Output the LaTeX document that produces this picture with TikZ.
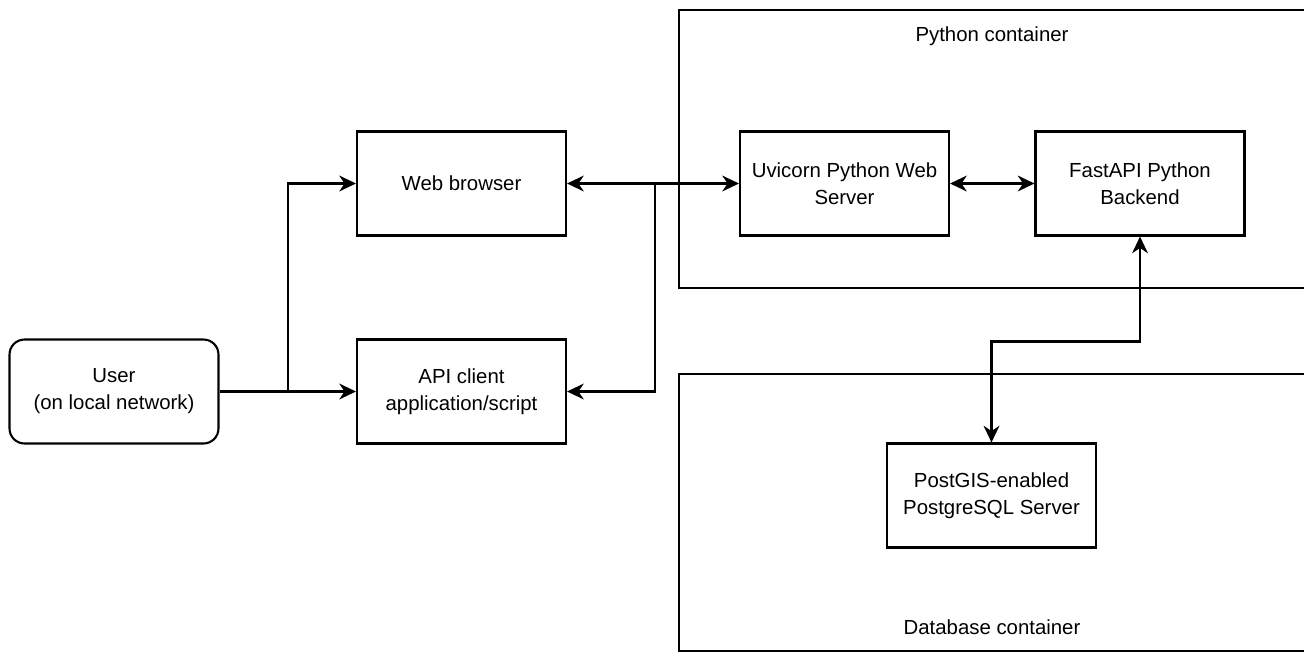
\documentclass[tikz,border=0pt]{standalone}
\usepackage{fontspec}
\setmainfont{Liberation Sans}
\usetikzlibrary{arrows.meta}

\begin{document}
\begin{tikzpicture}[x=0.02cm, y=-0.02cm, line width=1.2pt, >={Stealth[length=9.5pt,width=9pt,inset=3pt]}, font=\fontsize{11.6}{15.3}\selectfont]
    \tikzstyle{box}=[draw, rectangle, minimum width=4.18cm, minimum height=2.08cm, align=center, inner sep=2pt]
    \tikzstyle{actor}=[box, rounded corners=0.3cm]
    \tikzstyle{annot}=[text centered]

    \useasboundingbox (0,0) rectangle (1304,653);

    % Draw the containers (open on the right)
    \foreach \ya/\yb in {10/288,374/651}
        \draw (1320,\ya) -- (679,\ya) -- (679,\yb) -- (1320,\yb);

    % Draw the user and the clients
    \node[actor] (user) at (114,391.5) {User\\(on local network)};
    \node[box] (web) at (461.5,183.5) {Web browser};
    \node[box] (api) at (461.5,391.5) {API client\\application/script};

    % Draw the server nodes
    \node[box] (uvicorn) at (844.5,183.5) {Uvicorn Python Web\\Server};
    \node[box] (fastapi) at (1140,183.5) {FastAPI Python\\Backend};
    \node[box] (postgis) at (991.5,495.5) {PostGIS-enabled\\PostgreSQL Server};

    % Connect the user with the clients
    \coordinate (split) at (288,391.5);
    \draw[->] (user) -- (api);
    \draw[->] (split) |- (web);

    % Connect the clients with the server
    \coordinate (branch) at (655,183.5);
    \draw[<->] (web) -- (uvicorn);
    \draw[->] (branch) |- (api);
    \draw[<->] (uvicorn) -- (fastapi);
    \draw[<->] (fastapi.south) -- ++(0,105) -| (postgis.north);

    % Annotate the containers
    \node[annot] (pylabel) at (992,36) {Python container};
    \node[annot] (dblabel) at (992,627) {Database container};

\end{tikzpicture}
\end{document}
